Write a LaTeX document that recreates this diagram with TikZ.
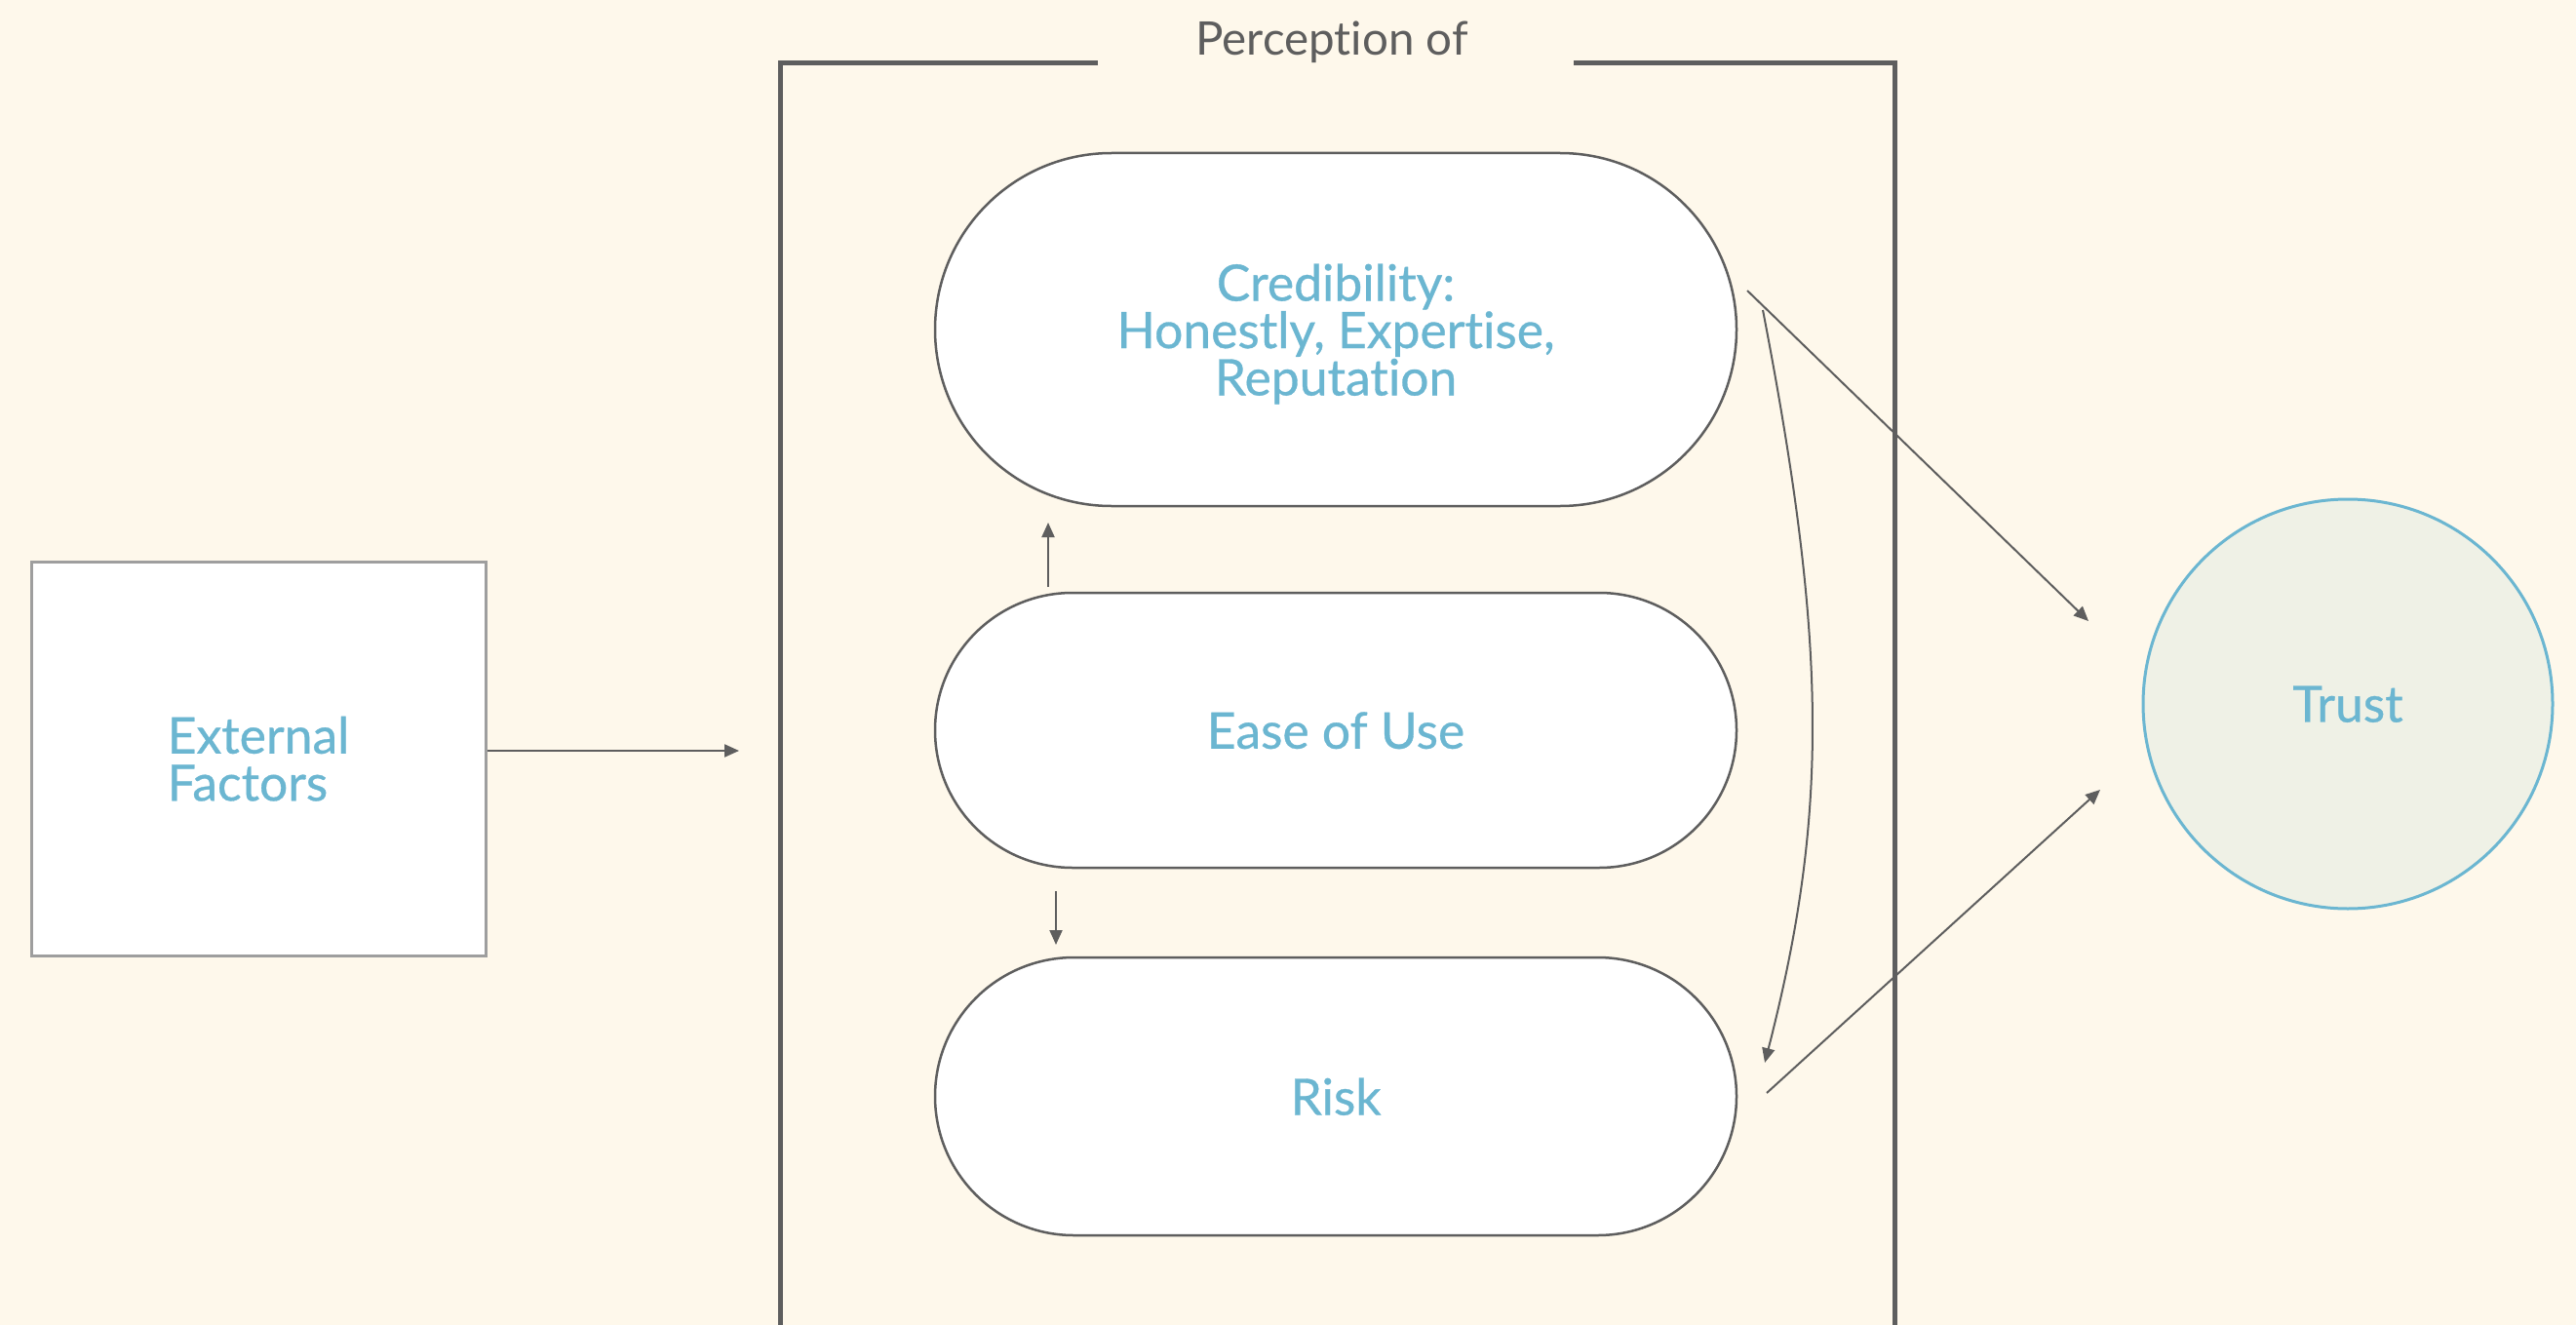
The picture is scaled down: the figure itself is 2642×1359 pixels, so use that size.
\documentclass[tikz,border=0pt]{standalone}
\usepackage{fontspec}
\setmainfont{Lato}[Ligatures={NoCommon,NoContextual}]
\newfontfamily\labelfont{Lato}[Ligatures={NoCommon,NoContextual},FakeBold=0.6,AutoFakeBold=0.6]
\usetikzlibrary{arrows.meta}
\definecolor{paper}{HTML}{FEF8EB}
\definecolor{ink}{HTML}{5E5E5E}
\definecolor{sky}{HTML}{6BB6D1}
\definecolor{mist}{HTML}{EFF1E6}
\definecolor{edgegray}{HTML}{9E9E9E}

\begin{document}
\begin{tikzpicture}[x=1pt,y=-1pt,
  lbl/.style={text=sky,font=\labelfont\bfseries\fontsize{51.6}{48.5}\selectfont},
  pill/.style={draw=ink,line width=2.5pt,fill=white,rectangle,
    rounded corners=#1,inner sep=0pt,minimum width=822pt,
    minimum height=2*#1,lbl,text depth=0pt},
  conn/.style={draw=ink,line width=2pt,-{Triangle[length=15pt,width=13pt]}}
]
% canvas
\fill[paper] (0,0) rectangle (2642,1359);
\useasboundingbox (0,0) rectangle (2642,1359);

% bracket frame with its title
\node[anchor=base,text=ink,font=\fontsize{47.5}{50}\selectfont] (title) at (1366,57) {Perception of};
\draw[ink,line width=5pt,line join=miter] (1126,65) -- (800,65) -- (800,1370);
\draw[ink,line width=5pt,line join=miter] (1614,65) -- (1943,65) -- (1943,1370);

% factor nodes
\node[pill=181pt,align=center] (cred) at (1370,338) {Credibility:\\Honestly, Expertise,\\Reputation};
\node[pill=141pt] (ease) at (1370,749) {Ease of Use};
\node[pill=142.5pt] (risk) at (1370,1124.5) {Risk};

\node[draw=edgegray,line width=3pt,fill=white,rectangle,inner sep=0pt,
      minimum width=466pt,minimum height=404pt,lbl,align=left,text depth=0pt]
      (ext) at (265,778) {External\\Factors};

\node[draw=sky,line width=3pt,fill=mist,circle,inner sep=0pt,
      minimum size=420pt,lbl,text depth=0pt] (trust) at (2408,722) {Trust};

% connector end points
\coordinate (extTip) at (758,770);
\coordinate (upFrom) at (1075,602);
\coordinate (upTo) at (1075,536);
\coordinate (downFrom) at (1083,914);
\coordinate (downTo) at (1083,969);
\coordinate (credOut) at (1792,298);
\coordinate (trustInA) at (2142,637);
\coordinate (loopFrom) at (1808,318);
\coordinate (loopTo) at (1810,1090);
\coordinate (riskOut) at (1812,1121);
\coordinate (trustInB) at (2154,810);

% connectors
\draw[conn] (ext.east |- extTip) -- (extTip);
\draw[conn] (upFrom) -- (upTo);
\draw[conn] (downFrom) -- (downTo);
\draw[conn] (credOut) -- (trustInA);
\draw[conn] (loopFrom) .. controls (1875,665) and (1875,837) .. (loopTo);
\draw[conn] (riskOut) -- (trustInB);
\end{tikzpicture}
\end{document}
